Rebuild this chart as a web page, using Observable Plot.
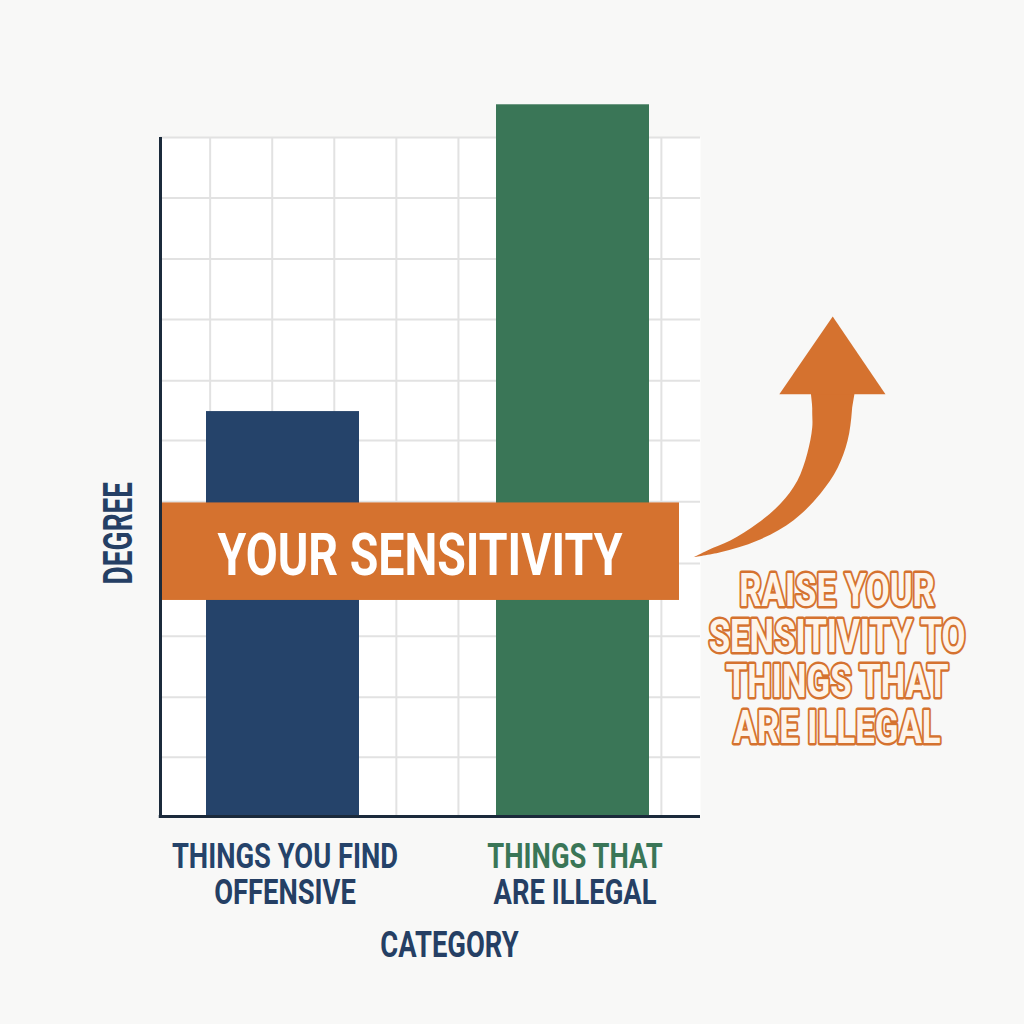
<!DOCTYPE html>
<html><head><meta charset="utf-8">
<script src="https://cdn.jsdelivr.net/npm/d3@7"></script>
<script src="https://cdn.jsdelivr.net/npm/@observablehq/plot@0.6"></script>
<style>
html,body{margin:0;padding:0;background:#f8f8f7;}
#chart{position:relative;width:1024px;height:1024px;overflow:hidden;}
#chart svg{position:absolute;left:0;top:0;}
</style></head><body><div id="chart"></div>
<script>
// ---- data ----
const categories = ["Things you find offensive", "Things that are illegal"];
const degree = [6.56, 11.53];
const labelLine1 = ["THINGS YOU FIND", "THINGS THAT"];
const labelLine2 = ["OFFENSIVE", "ARE ILLEGAL"];
const sensitivityLow = 3.5;
const sensitivityHigh = 5.08;
const sensitivityLabel = "YOUR SENSITIVITY";
const gridY = [0.96, 1.93, 2.92, 4.1, 5.1, 6.09, 7.06, 8.05, 9.03, 10.02, 11];
const gridX = [0.8, 1.8, 2.8, 3.8, 4.8, 5.8, 6.8, 8.07];
const arrowShaftX = [8.59, 9.02, 9.62, 10.2, 10.63, 10.91, 11.07, 11.14, 11.15, 10.52, 10.5, 10.5, 10.42, 10.26, 9.99, 9.62, 9.18, 8.81, 8.59];
const arrowShaftY = [4.2, 4.28, 4.47, 4.8, 5.23, 5.65, 6.09, 6.58, 7.1, 7.1, 6.6, 6.3, 5.88, 5.44, 5.07, 4.75, 4.47, 4.31, 4.2];
const arrowHeadX = [9.97, 10.83, 11.68, 9.97];
const arrowHeadY = [6.84, 8.1, 6.84, 6.84];
const annotation = ["RAISE YOUR", "SENSITIVITY TO", "THINGS THAT", "ARE ILLEGAL"];
const xTitle = "CATEGORY";
const yTitle = "DEGREE";

// ---- styles ----
const NAVY = "#25436a", GREEN = "#3a7657", ORANGE = "#d5722f", AXIS = "#1b2a3b";
const GRID = "#e2e2e2", LABEL_NAVY = "#253f64", CREAM = "#fdf4ea";
const FONT = "Roboto, 'Liberation Sans', sans-serif";
const SQUEEZE = new Map([[sensitivityLabel, 0.775], [yTitle, 0.70], [xTitle, 0.74], [annotation.join(""), 0.74]]);
const SQUEEZE_DEFAULT = 0.76;

const bars = categories.map((c, i) => ({category: c, degree: degree[i]}));
const band = [{low: sensitivityLow, high: sensitivityHigh}];
const shaft = arrowShaftX.map((x, i) => ({x, y: arrowShaftY[i]}));
const head = arrowHeadX.map((x, i) => ({x, y: arrowHeadY[i]}));

const base = {width: 1024, height: 1024, marginLeft: 160, marginTop: 137, marginBottom: 208,
  style: {background: "transparent", fontFamily: FONT, overflow: "visible"}};
const yScale = {domain: [0, 11], axis: null};
const linear = (marks) => Plot.plot({...base, marginRight: 324,
  x: {domain: [0, 8.7], axis: null}, y: yScale, marks});

const gridLayer = linear([
  Plot.frame({fill: "white", stroke: "none"}),
  Plot.ruleX(gridX, {stroke: GRID, strokeWidth: 2}),
  Plot.ruleY(gridY, {stroke: GRID, strokeWidth: 2})
]);

const barLayer = Plot.plot({...base, marginRight: 345,
  x: {type: "band", domain: categories, paddingInner: 0.474, paddingOuter: 0.129, align: 0.6, axis: null},
  y: yScale,
  color: {domain: categories, range: [NAVY, GREEN]},
  marks: [
    Plot.barY(bars, {x: "category", y: "degree", fill: "category"}),
    Plot.rect(band, {y1: "low", y2: "high", fill: ORANGE}),
    Plot.text(band, {y: d => (d.low + d.high) / 2, text: () => sensitivityLabel, fill: "white",
      fontSize: 60, fontWeight: "bold", dy: 4}),
    Plot.text(bars, {x: "category", text: (d, i) => labelLine1[i], fill: "category",
      frameAnchor: "bottom", lineAnchor: "bottom", dy: 51, dx: 2, fontSize: 36, fontWeight: "bold"}),
    Plot.text(bars, {x: "category", text: (d, i) => labelLine2[i], fill: LABEL_NAVY,
      frameAnchor: "bottom", lineAnchor: "bottom", dy: 87, dx: 2, fontSize: 36, fontWeight: "bold"})
  ]
});

const topLayer = linear([
  Plot.ruleX([0], {y1: 0, y2: 11, stroke: AXIS, strokeWidth: 3}),
  Plot.ruleY([0], {x1: -0.02, x2: 8.7, stroke: AXIS, strokeWidth: 3}),
  Plot.line(shaft, {x: "x", y: "y", fill: ORANGE, stroke: "none", curve: "catmull-rom"}),
  Plot.line(head, {x: "x", y: "y", fill: ORANGE, stroke: "none", curve: "linear"}),
  Plot.text([annotation.join("\n")], {x: 10.9, y: 1.19, text: d => d, lineAnchor: "bottom",
    lineHeight: 0.973, fontSize: 47, fontWeight: "bold", fill: CREAM, stroke: ORANGE,
    strokeWidth: 4.4, strokeLinejoin: "round", paintOrder: "stroke"}),
  Plot.text([yTitle], {y: 4.59, text: d => d, frameAnchor: "left", textAnchor: "middle", rotate: -90, dx: -41,
    fontSize: 40, fontWeight: "bold", fill: LABEL_NAVY}),
  Plot.text([xTitle], {text: d => d, frameAnchor: "bottom", lineAnchor: "bottom", dy: 140, dx: 19,
    fontSize: 37, fontWeight: "bold", fill: LABEL_NAVY})
]);

const chart = document.getElementById("chart");
for (const svg of [gridLayer, barLayer, topLayer]) chart.appendChild(svg);

// condense the bold lettering horizontally, as in the reference's condensed typeface
for (const t of chart.querySelectorAll("text")) {
  const k = SQUEEZE.get(t.textContent) ?? SQUEEZE_DEFAULT;
  const tr = t.getAttribute("transform");
  if (tr) t.setAttribute("transform", tr + ` scale(${k},1)`);
  else {
    const x = parseFloat(t.getAttribute("x")) || 0;
    t.setAttribute("x", 0);
    t.setAttribute("transform", `translate(${x},0) scale(${k},1)`);
  }
  t.style.vectorEffect = "non-scaling-stroke";
  t.querySelectorAll("tspan").forEach(s => s.style.vectorEffect = "non-scaling-stroke");
}
</script></body></html>
